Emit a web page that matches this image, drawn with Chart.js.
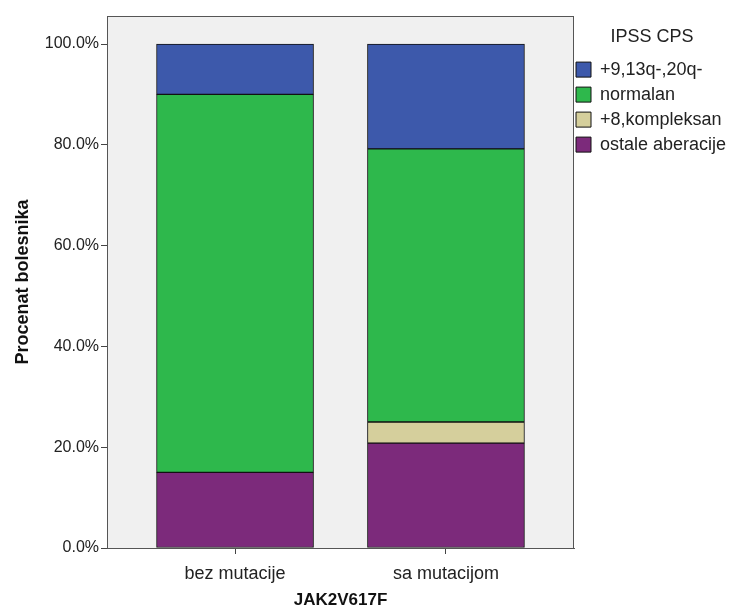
<!DOCTYPE html>
<html>
<head>
<meta charset="utf-8">
<script src="https://cdn.jsdelivr.net/npm/chart.js@4/dist/chart.umd.min.js"></script>
<style>
  html, body { margin: 0; padding: 0; background: #fff; }
  #wrap { width: 735px; height: 611px; }
</style>
</head>
<body>
<div id="wrap"><canvas id="bar-chart"></canvas></div>
<script>
var groups = ["bez mutacije", "sa mutacijom"];
var ostale = [15.0, 20.8];
var plus8 = [0.0, 4.2];
var normalan = [75.0, 54.2];
var plus9 = [10.0, 20.8];
var yTicks = [0, 20, 40, 60, 80, 100];

function toPoints(values){
  var pts = [];
  for (let i = 0; i < values.length; i++){
    pts.push({ x: i, y: values[i] });
  }
  return pts;
}

// gray plot box with a frame, like the SPSS output
var plotBox = {
  id: 'plotBox',
  beforeDatasetsDraw: function(chart){
    let a = chart.chartArea;
    let ctx = chart.ctx;
    ctx.save();
    ctx.fillStyle = '#f0f0f0';
    ctx.fillRect(a.left, a.top, a.right - a.left, a.bottom - a.top);
    ctx.restore();
  },
  afterDatasetsDraw: function(chart){
    let a = chart.chartArea;
    let ctx = chart.ctx;
    ctx.save();
    ctx.strokeStyle = '#555';
    ctx.lineWidth = 1;
    ctx.strokeRect(a.left + 0.5, a.top + 0.5, a.right - a.left - 1, a.bottom - a.top);
    ctx.restore();
  }
};

// fix legend width so the plot ends where it does in the picture
var legendWidth = {
  id: 'legendWidth',
  afterInit: function(chart){
    let lg = chart.legend;
    let orig = lg.fit;
    lg.fit = function(){
      orig.call(this);
      this.width = 161;
    };
  },
  afterLayout: function(chart){
    let lg = chart.legend;
    lg.left -= 5;
    lg.width += 5;
  }
};

new Chart(document.getElementById("bar-chart"), {
  type: 'bar',
  data: {
    datasets: [{
        data: toPoints(ostale),
        label: "ostale aberacije",
        backgroundColor: "#7c2a7b",
        borderColor: "#111",
        borderWidth: 1
      }, {
        data: toPoints(plus8),
        label: "+8,kompleksan",
        backgroundColor: "#d5cf9c",
        borderColor: "#111",
        borderWidth: 1
      }, {
        data: toPoints(normalan),
        label: "normalan",
        backgroundColor: "#2eb84c",
        borderColor: "#111",
        borderWidth: 1
      }, {
        data: toPoints(plus9),
        label: "+9,13q-,20q-",
        backgroundColor: "#3d59ab",
        borderColor: "#111",
        borderWidth: 1
      }
    ]
  },
  plugins: [plotBox, legendWidth],
  options: {
    responsive: true,
    maintainAspectRatio: false,
    animation: false,
    layout: { padding: { top: 16, left: 8, right: 0, bottom: 0 } },
    datasets: { bar: { barThickness: 157, borderSkipped: false } },
    scales: {
      x: {
        type: 'linear',
        stacked: true,
        offset: false,
        min: -0.607,
        max: 1.607,
        afterBuildTicks: function(scale){
          scale.ticks = groups.map(function(g, i){ return { value: i }; });
        },
        afterFit: function(scale){ scale.height = 63; },
        ticks: {
          callback: function(v){ return groups[v]; },
          color: '#222',
          font: { family: 'Liberation Sans, Arial', size: 18 },
          padding: 9
        },
        grid: { display: true, offset: false, drawOnChartArea: false, drawTicks: true, tickLength: 6, color: '#444' },
        border: { display: true, color: '#555' },
        title: {
          display: true,
          text: 'JAK2V617F',
          color: '#111',
          font: { family: 'Liberation Sans, Arial', size: 17, weight: 'bold' },
          padding: { top: 9, bottom: 0 }
        }
      },
      y: {
        stacked: true,
        min: 0,
        max: 105.56,
        afterBuildTicks: function(scale){
          scale.ticks = yTicks.map(function(v){ return { value: v }; });
        },
        afterFit: function(scale){ scale.width = 99; },
        ticks: {
          callback: function(v){ return v.toFixed(1) + '%'; },
          color: '#222',
          font: { family: 'Liberation Sans, Arial', size: 16 },
          padding: 2
        },
        grid: { display: true, drawOnChartArea: false, drawTicks: true, tickLength: 6, color: '#444' },
        border: { display: true, color: '#555' },
        title: {
          display: true,
          text: 'Procenat bolesnika',
          color: '#111',
          font: { family: 'Liberation Sans, Arial', size: 18, weight: 'bold' },
          padding: { bottom: 5 }
        }
      }
    },
    plugins: {
      tooltip: { enabled: false },
      legend: {
        position: 'right',
        align: 'start',
        reverse: true,
        title: {
          display: true,
          text: 'IPSS CPS',
          color: '#222',
          font: { family: 'Liberation Sans, Arial', size: 18 },
          padding: { top: 12, bottom: 4 }
        },
        labels: {
          boxWidth: 15,
          boxHeight: 15,
          padding: 7,
          color: '#222',
          font: { family: 'Liberation Sans, Arial', size: 18 }
        }
      }
    }
  }
});
</script>
</body>
</html>
